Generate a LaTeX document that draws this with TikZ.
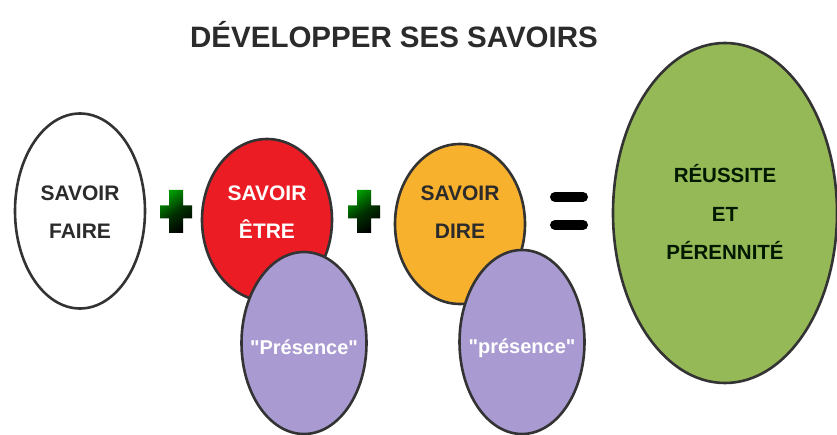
\documentclass[tikz,border=0pt]{standalone}
\usepackage{fontspec}
\setmainfont{Liberation Sans}
\usetikzlibrary{shapes.geometric}
\definecolor{redc}{HTML}{EC1C24}
\definecolor{yelc}{HTML}{F7B12D}
\definecolor{purc}{HTML}{A99BD2}
\definecolor{grnc}{HTML}{96B957}
\definecolor{linec}{HTML}{333333}
\definecolor{txtc}{HTML}{2B2B2B}
\begin{document}
\begin{tikzpicture}[x=1pt,y=-1pt,
  blob/.style={ellipse,draw=linec,line width=2.6pt,inner sep=0pt},
  lbl/.style={font=\fontsize{21}{38}\selectfont\bfseries,align=center},
  pres/.style={font=\fontsize{20}{24}\selectfont\bfseries,text=white},
  plusbar/.style={shade,top color=green!60!black,bottom color=black,middle color=black!80!green,shading angle=35}]
\useasboundingbox (0,0) rectangle (837,435);
\fill[white] (0,0) rectangle (837,435);
\node[font=\fontsize{29.5}{34}\selectfont\bfseries,text=txtc] (title) at (394,35) {DÉVELOPPER SES SAVOIRS};
% circles
\node[blob,fill=white,minimum width=130pt,minimum height=195pt] (sf) at (80,211) {};
\node[lbl,text=txtc] (sft) at (80,212) {SAVOIR\\FAIRE};
\node[blob,fill=redc,minimum width=130pt,minimum height=162pt] (se) at (267,220) {};
\node[lbl,text=white] (set) at (267,212) {SAVOIR\\ÊTRE};
\node[blob,fill=purc,minimum width=125pt,minimum height=182pt] (p1) at (304,343) {};
\node[pres] (p1t) at (304,347) {\textquotedbl Présence\textquotedbl};
\node[blob,fill=yelc,minimum width=130pt,minimum height=160pt] (sd) at (460,224) {};
\node[lbl,text=txtc] (sdt) at (460,212) {SAVOIR\\DIRE};
\node[blob,fill=purc,minimum width=125pt,minimum height=184pt] (p2) at (522,342) {};
\node[pres] (p2t) at (522,348) {\textquotedbl présence\textquotedbl};
\node[blob,fill=grnc,minimum width=224pt,minimum height=340pt] (rp) at (725,213) {};
\node[lbl,text=black!90!green,font=\fontsize{20.5}{38.5}\selectfont\bfseries] (rpt) at (725,212) {RÉUSSITE\\ET\\PÉRENNITÉ};
% operators
\coordinate (pl1) at (176,212);
\coordinate (pl2) at (364,212);
\foreach \c in {pl1,pl2}{
  \path[plusbar] ([xshift=-7pt,yshift=22pt]\c) -- ([xshift=7pt,yshift=22pt]\c)
    -- ([xshift=7pt,yshift=6.5pt]\c) -- ([xshift=16pt,yshift=6.5pt]\c)
    -- ([xshift=16pt,yshift=-6.5pt]\c) -- ([xshift=7pt,yshift=-6.5pt]\c)
    -- ([xshift=7pt,yshift=-21pt]\c) -- ([xshift=-7pt,yshift=-21pt]\c)
    -- ([xshift=-7pt,yshift=-6.5pt]\c) -- ([xshift=-16pt,yshift=-6.5pt]\c)
    -- ([xshift=-16pt,yshift=6.5pt]\c) -- ([xshift=-7pt,yshift=6.5pt]\c) -- cycle;
}
\coordinate (eq) at (569,211);
\draw[line width=10pt,line cap=round,black] ([xshift=-14pt,yshift=14pt]eq) -- ([xshift=14pt,yshift=14pt]eq);
\draw[line width=10pt,line cap=round,black] ([xshift=-14pt,yshift=-14pt]eq) -- ([xshift=14pt,yshift=-14pt]eq);
\end{tikzpicture}
\end{document}
